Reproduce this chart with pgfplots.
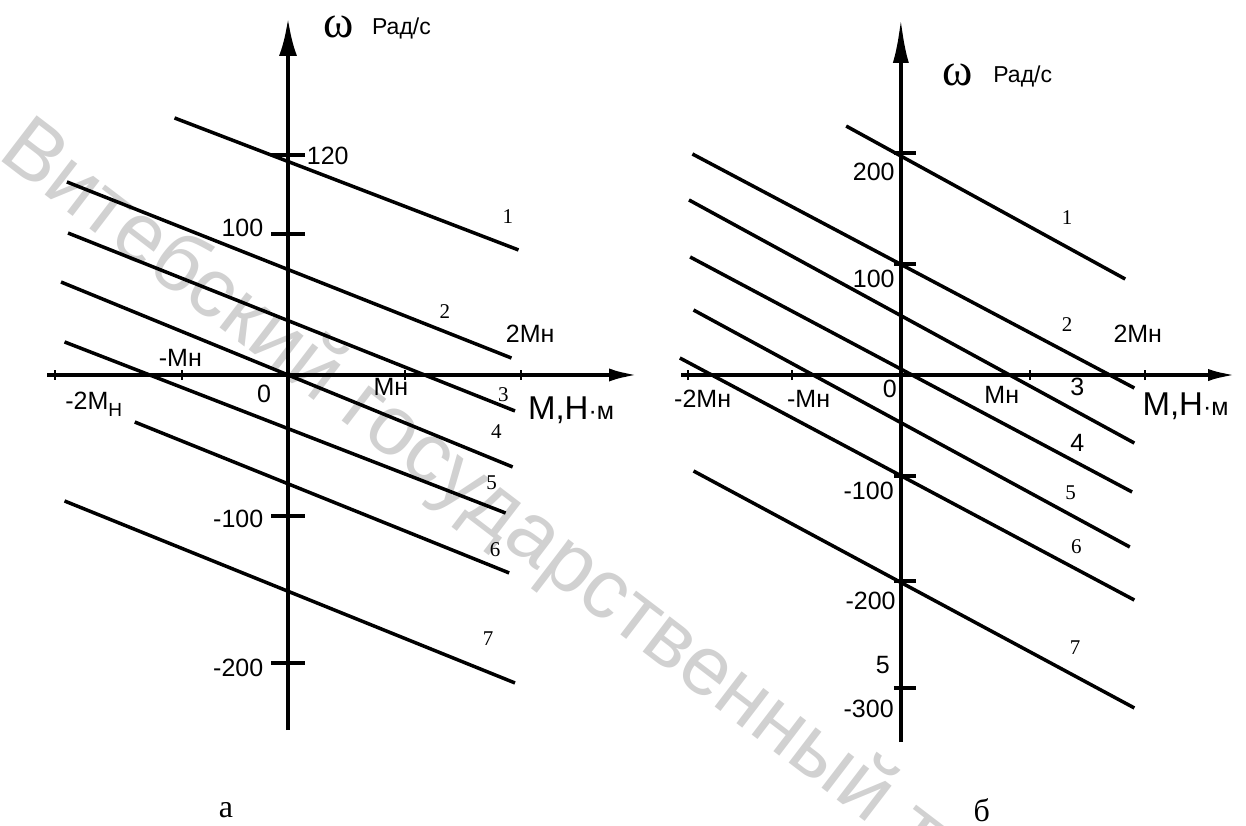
\documentclass[border=0pt]{standalone}
\usepackage{fontspec}
\setmainfont{Liberation Serif}
\setsansfont{Liberation Sans}
\usepackage{pgfplots}
\pgfplotsset{compat=1.18}
\usetikzlibrary{arrows.meta}
\newcommand\tl{\sffamily\fontsize{25}{28}\selectfont}
\newcommand\nl{\rmfamily\fontsize{21}{24}\selectfont}
\newcommand\units{\sffamily\fontsize{23}{26}\selectfont Рад/с}
\newcommand\om{\rmfamily\fontsize{46}{48}\selectfont ω}
\newcommand\mlabel{\sffamily\fontsize{33}{36}\selectfont М,Н{\fontsize{25}{28}\selectfont·м}}
\begin{document}
\begin{tikzpicture}[x=1pt,y=1pt]
\useasboundingbox (0,0) rectangle (1246,825);
\begin{scope}
\clip (0,0) rectangle (1246,825);
\node[anchor=base west, rotate=-37.4, text=black!18, inner sep=0,
  font=\sffamily\fontsize{84}{86}\selectfont] at (-4,668)
  {Витебский государственный технологический университет};
\end{scope}

% ---------------- (a) ----------------
\begin{axis}[
  at={(47pt,95pt)}, anchor=south west,
  width=592pt, height=712pt, scale only axis,
  xmin=-2.06, xmax=3.0, ymin=-253.6, ymax=255,
  axis lines=middle,
  axis line style={line width=4.5pt},
  x axis line style={-{Latex[length=30pt,width=13pt]}},
  y axis line style={-{Latex[length=38pt,width=18pt]}},
  xtick={-1.99,-0.91,1.0,1.99}, xticklabels={,,,},
  ytick={-205.7,-100.7,100.7,157.1}, yticklabels={,,,},
  tick align=center,
  major tick length=10pt,
  xtick style={line width=2pt,black},
  ytick style={line width=4pt,black,/pgfplots/major tick length=34pt},
  clip=false,
]
\addplot[line width=3.5pt] coordinates {(-0.97,183.6) (1.97,89.3)};
\addplot[line width=3.5pt] coordinates {(-1.89,137.9) (1.91,12.1)};
\addplot[line width=3.5pt] coordinates {(-1.88,101.4) (1.94,-25.7)};
\addplot[line width=3.5pt] coordinates {(-1.94,66.4) (1.92,-65.7)};
\addplot[line width=3.5pt] coordinates {(-1.91,23.6) (1.86,-98.6)};
\addplot[line width=3.5pt] coordinates {(-1.31,-33.6) (1.89,-141.4)};
\addplot[line width=3.5pt] coordinates {(-1.91,-90) (1.94,-220)};
% curve numbers
\node[font=\nl] at (1.88,112.9) {1};
\node[font=\nl] at (1.34,45) {2};
\node[font=\nl] at (1.84,-14.3) {3};
\node[font=\nl] at (1.78,-40.7) {4};
\node[font=\nl] at (1.74,-77.1) {5};
\node[font=\nl] at (1.77,-125) {6};
\node[font=\nl] at (1.71,-188.6) {7};
% tick labels
\node[font=\tl, anchor=base] at (-1.66,-25) {-2M\raisebox{-7pt}{\fontsize{19}{20}\selectfont Н}};
\node[font=\tl, anchor=base] at (-0.92,5.7) {-Мн};
\node[font=\tl, anchor=base] at (-0.205,-20) {0};
\node[font=\tl, anchor=base] at (0.88,-15) {Мн};
\node[font=\tl, anchor=base] at (2.07,22.9) {2Мн};
\node[font=\tl, anchor=base west, inner sep=0] at (0.16,150.7) {120};
\node[font=\tl, anchor=base east, inner sep=0] at (-0.21,98.6) {100};
\node[font=\tl, anchor=base east, inner sep=0] at (-0.21,-108.6) {-100};
\node[font=\tl, anchor=base east, inner sep=0] at (-0.21,-215.7) {-200};
% axis titles
\node[anchor=base] at (0.43,241.4) {\om};
\node[anchor=base] at (0.97,242.9) {\units};
\node[anchor=base west, inner sep=0] at (2.05,-32.1) {\mlabel};
\node[font=\rmfamily\fontsize{32}{34}\selectfont] at (-0.53,-310.7) {а};
\end{axis}

% ---------------- (б) ----------------
\begin{axis}[
  at={(681pt,83pt)}, anchor=south west,
  width=557pt, height=724pt, scale only axis,
  xmin=-1.93, xmax=2.96, ymin=-349.5, ymax=340,
  axis lines=middle,
  axis line style={line width=4.5pt},
  x axis line style={-{Latex[length=30pt,width=12pt]}},
  y axis line style={-{Latex[length=45pt,width=16pt]}},
  xtick={-1.87,-0.96,1.13,2.14}, xticklabels={,,,},
  ytick={-298.1,-196.2,-96.2,105.7,211.4}, yticklabels={,,,,},
  tick align=center,
  major tick length=10pt,
  xtick style={line width=2pt,black},
  ytick style={line width=4pt,black,xshift=4pt,/pgfplots/major tick length=22pt},
  clip=false,
]
\addplot[line width=3.5pt] coordinates {(-0.48,237.1) (1.97,91.4)};
\addplot[line width=3.5pt] coordinates {(-1.83,210.5) (2.05,-12.4)};
\addplot[line width=3.5pt] coordinates {(-1.86,166.7) (2.05,-64.8)};
\addplot[line width=3.5pt] coordinates {(-1.85,112.4) (2.03,-111.4)};
\addplot[line width=3.5pt] coordinates {(-1.82,61.9) (2.01,-163.8)};
\addplot[line width=3.5pt] coordinates {(-1.94,16.2) (2.05,-214.3)};
\addplot[line width=3.5pt] coordinates {(-1.82,-91.4) (2.05,-317.1)};
% curve numbers
\node[font=\nl] at (1.46,149.5) {1};
\node[font=\nl] at (1.46,47.6) {2};
\node[font=\tl] at (1.55,-11.4) {3};
\node[font=\tl] at (1.55,-64.8) {4};
\node[font=\nl] at (1.49,-112.4) {5};
\node[font=\nl] at (1.54,-163.8) {6};
\node[font=\nl] at (1.53,-260) {7};
% tick labels
\node[font=\tl, anchor=base] at (-1.74,-30.5) {-2Мн};
\node[font=\tl, anchor=base] at (-0.81,-30.5) {-Мн};
\node[font=\tl, anchor=base] at (-0.096,-21) {0};
\node[font=\tl, anchor=base] at (0.886,-26.7) {Мн};
\node[font=\tl, anchor=base] at (2.08,30.5) {2Мн};
\node[font=\tl, anchor=base east, inner sep=0] at (-0.053,185.7) {200};
\node[font=\tl, anchor=base east, inner sep=0] at (-0.053,83.8) {100};
\node[font=\tl, anchor=base east, inner sep=0] at (-0.061,-119) {-100};
\node[font=\tl, anchor=base east, inner sep=0] at (-0.044,-222.9) {-200};
\node[font=\tl, anchor=base east, inner sep=0] at (-0.096,-283.8) {5};
\node[font=\tl, anchor=base east, inner sep=0] at (-0.061,-325.7) {-300};
% axis titles
\node[anchor=base] at (0.5,276) {\om};
\node[anchor=base] at (1.07,279) {\units};
\node[anchor=base west, inner sep=0] at (2.12,-38.1) {\mlabel};
\node[font=\rmfamily\fontsize{32}{34}\selectfont] at (0.71,-414) {б};
\end{axis}
\end{tikzpicture}
\end{document}
